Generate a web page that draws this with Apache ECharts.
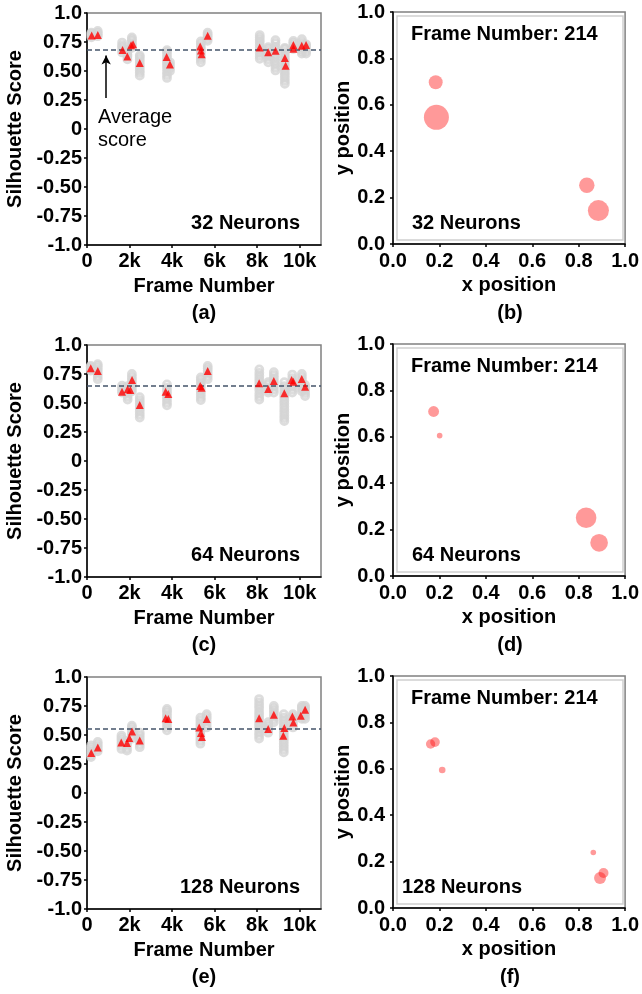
<!DOCTYPE html>
<html>
<head>
<meta charset="utf-8">
<script src="https://cdn.jsdelivr.net/npm/echarts@6/dist/echarts.min.js"></script>
<style>
  html, body { margin: 0; padding: 0; background: #fff; }
  #chart { width: 642px; height: 994px; }
</style>
</head>
<body>
<div id="chart"></div>
<script>
// ---- tick labels ----
const frameTicks = [0, 2000, 4000, 6000, 8000, 10000];
const frameTickLabels = ['0', '2k', '4k', '6k', '8k', '10k'];
const scoreTickLabels = ['-1.0', '-0.75', '-0.50', '-0.25', '0', '0.25', '0.50', '0.75', '1.0'];
const posTickLabels = ['0.0', '0.2', '0.4', '0.6', '0.8', '1.0'];

const neuronCounts = [32, 64, 128];
const shownFrame = 214;
const panelLetters = ['(a)', '(b)', '(c)', '(d)', '(e)', '(f)'];

// ---- 32 neurons ----
const columnFrames32 = [205, 505, 1650, 1900, 2110, 2480, 3760, 3900, 5350, 5670, 8120, 8520, 8860, 9300, 9700, 10100, 10300];
const columnScores32 = [
  [0.79, 0.805, 0.82, 0.83],
  [0.80, 0.815, 0.83, 0.845],
  [0.66, 0.68, 0.705, 0.72, 0.745],
  [0.60, 0.625, 0.64, 0.665, 0.68],
  [0.70, 0.72, 0.735, 0.76, 0.775, 0.79],
  [0.46, 0.485, 0.505, 0.53, 0.55, 0.575, 0.60, 0.62, 0.635],
  [0.44, 0.465, 0.49, 0.52, 0.545, 0.57, 0.59, 0.615, 0.64, 0.665, 0.68],
  [0.50, 0.525, 0.55, 0.575],
  [0.575, 0.60, 0.62, 0.645, 0.67, 0.69, 0.71, 0.735, 0.755],
  [0.76, 0.78, 0.80, 0.815, 0.83],
  [0.605, 0.63, 0.655, 0.68, 0.70, 0.725, 0.75, 0.77, 0.79, 0.81],
  [0.575, 0.60, 0.625, 0.645, 0.67, 0.69, 0.705],
  [0.505, 0.53, 0.555, 0.58, 0.61, 0.635, 0.66, 0.685, 0.71, 0.74, 0.765],
  [0.39, 0.415, 0.44, 0.465, 0.49, 0.515, 0.54, 0.565, 0.59, 0.615, 0.64, 0.665, 0.69, 0.70],
  [0.69, 0.71, 0.73, 0.745, 0.76],
  [0.65, 0.67, 0.69, 0.71, 0.73, 0.75, 0.775],
  [0.65, 0.67, 0.695, 0.715, 0.73]
];
const meanScores32 = [
  [220, 0.805], [507, 0.811], [1673, 0.682], [1896, 0.625], [2071, 0.722], [2166, 0.731],
  [2479, 0.568], [3744, 0.620], [3900, 0.556], [5322, 0.711], [5355, 0.677], [5389, 0.645],
  [5673, 0.803], [8118, 0.702], [8517, 0.662], [8863, 0.674], [9303, 0.611], [9336, 0.545],
  [9700, 0.725], [9705, 0.691], [10095, 0.717], [10299, 0.725]
];
const averageScore32 = 0.680;
// [x, y, members]
const clusters32 = [[0.184, 0.697, 31], [0.187, 0.546, 100], [0.835, 0.253, 38], [0.885, 0.144, 71]];

// ---- 64 neurons ----
const columnFrames64 = [175, 505, 1645, 1910, 2110, 2480, 3760, 5350, 5673, 8100, 8517, 8783, 9275, 9650, 10100, 10253];
const columnScores64 = [
  [0.78, 0.795, 0.81, 0.82],
  [0.705, 0.73, 0.755, 0.78, 0.80, 0.82, 0.835],
  [0.59, 0.61, 0.63, 0.65],
  [0.53, 0.555, 0.58, 0.60, 0.625, 0.645],
  [0.60, 0.625, 0.65, 0.675, 0.70, 0.725, 0.75],
  [0.375, 0.40, 0.425, 0.45, 0.475, 0.50, 0.525, 0.55],
  [0.48, 0.505, 0.53, 0.555, 0.58, 0.605, 0.63, 0.66],
  [0.525, 0.55, 0.575, 0.60, 0.625, 0.65, 0.675, 0.70, 0.72],
  [0.705, 0.73, 0.755, 0.78, 0.80, 0.82],
  [0.53, 0.555, 0.58, 0.61, 0.635, 0.66, 0.685, 0.71, 0.735, 0.76, 0.79],
  [0.59, 0.61, 0.635, 0.66, 0.68],
  [0.59, 0.615, 0.64, 0.665, 0.69, 0.715, 0.74, 0.765],
  [0.345, 0.37, 0.395, 0.42, 0.445, 0.47, 0.495, 0.52, 0.545, 0.57, 0.595, 0.62, 0.645, 0.68],
  [0.59, 0.615, 0.64, 0.665, 0.69, 0.715, 0.745],
  [0.60, 0.625, 0.65, 0.675, 0.70, 0.725, 0.75],
  [0.56, 0.585, 0.61, 0.635, 0.655]
];
const meanScores64 = [
  [175, 0.799], [507, 0.776], [1645, 0.598], [1910, 0.618], [2038, 0.612], [2118, 0.698],
  [2480, 0.483], [3697, 0.598], [3823, 0.578], [5322, 0.647], [5389, 0.632], [5673, 0.776],
  [8090, 0.670], [8517, 0.621], [8783, 0.690], [9275, 0.583], [9620, 0.698], [9701, 0.684],
  [10095, 0.707], [10253, 0.641]
];
const averageScore64 = 0.647;
const clusters64 = [[0.175, 0.709, 19], [0.201, 0.605, 5], [0.832, 0.251, 68], [0.888, 0.143, 50]];

// ---- 128 neurons ----
const columnFrames128 = [190, 505, 1620, 1880, 2110, 2480, 3760, 5330, 5626, 8090, 8517, 8783, 9250, 9680, 10100, 10250];
const columnScores128 = [
  [0.31, 0.33, 0.35, 0.37, 0.39, 0.41],
  [0.36, 0.38, 0.40, 0.42, 0.44],
  [0.38, 0.405, 0.43, 0.455, 0.475, 0.495],
  [0.365, 0.385, 0.41, 0.43, 0.45],
  [0.47, 0.495, 0.52, 0.545, 0.565, 0.58],
  [0.395, 0.42, 0.445, 0.47, 0.495, 0.52],
  [0.54, 0.565, 0.59, 0.615, 0.64, 0.665, 0.69, 0.71, 0.725],
  [0.425, 0.45, 0.475, 0.50, 0.525, 0.55, 0.575, 0.60, 0.625, 0.65],
  [0.565, 0.59, 0.615, 0.64, 0.66, 0.68],
  [0.47, 0.495, 0.52, 0.55, 0.575, 0.60, 0.625, 0.65, 0.675, 0.70, 0.73, 0.755, 0.78, 0.81],
  [0.52, 0.545, 0.57, 0.59, 0.61],
  [0.61, 0.635, 0.66, 0.685, 0.71, 0.73, 0.75],
  [0.35, 0.375, 0.40, 0.425, 0.45, 0.475, 0.50, 0.525, 0.55, 0.575, 0.60, 0.625, 0.65, 0.68],
  [0.565, 0.59, 0.615, 0.64, 0.66, 0.68],
  [0.64, 0.665, 0.69, 0.715, 0.735, 0.75],
  [0.64, 0.665, 0.69, 0.715, 0.735, 0.75]
];
const meanScores128 = [
  [200, 0.345], [507, 0.393], [1611, 0.436], [1881, 0.431], [1990, 0.474], [2118, 0.531],
  [2480, 0.453], [3697, 0.645], [3823, 0.637], [5275, 0.565], [5355, 0.517], [5403, 0.482],
  [5626, 0.639], [8090, 0.645], [8517, 0.551], [8783, 0.674], [9227, 0.494], [9275, 0.560],
  [9654, 0.659], [9701, 0.608], [10047, 0.665], [10253, 0.717]
];
const averageScore128 = 0.554;
const clusters128 = [[0.162, 0.707, 14], [0.181, 0.715, 15], [0.212, 0.595, 7], [0.863, 0.239, 5], [0.892, 0.129, 23], [0.907, 0.151, 16]];

// ---- assemble ----
const columnFrames = [columnFrames32, columnFrames64, columnFrames128];
const columnScores = [columnScores32, columnScores64, columnScores128];
const meanScores = [meanScores32, meanScores64, meanScores128];
const averageScores = [averageScore32, averageScore64, averageScore128];
const clusters = [clusters32, clusters64, clusters128];

const FONT = "'Liberation Sans', Arial, Helvetica, sans-serif";
const boldText = { fontFamily: FONT, fontWeight: 'bold', fontSize: 20, color: '#000' };

const rowTops = [13, 345, 677];
const leftX = 87, rightX = 393, plotW = 234, plotH = 232;

const grids = [], xAxes = [], yAxes = [], series = [], graphics = [];

function axisBase(extra) {
  return Object.assign({
    type: 'value',
    splitLine: { show: false },
    axisLine: { show: true, onZero: false, lineStyle: { color: '#000', width: 1.5 } },
    axisTick: { show: true, length: 3, inside: false, lineStyle: { color: '#000', width: 1.5 } },
    nameLocation: 'middle',
    nameTextStyle: Object.assign({}, boldText)
  }, extra);
}

neuronCounts.forEach((n, r) => {
  const top = rowTops[r];
  const gl = r * 2, gr = r * 2 + 1;

  // score-vs-frame panel
  grids.push({ left: leftX, top: top, width: plotW, height: plotH, show: true,
               borderColor: '#808080', borderWidth: 1.5, backgroundColor: '#fff' });
  xAxes.push(axisBase({
    gridIndex: gl, min: 0, max: 11000, interval: 2000,
    name: 'Frame Number', nameGap: 31,
    axisTick: { show: true, length: 3, lineStyle: { color: '#000', width: 1.5 }, customValues: frameTicks },
    axisLabel: Object.assign({}, boldText, {
      margin: 6, customValues: frameTicks,
      formatter: v => { const i = frameTicks.indexOf(v); return i >= 0 ? frameTickLabels[i] : ''; }
    })
  }));
  yAxes.push(axisBase({
    gridIndex: gl, min: -1, max: 1, interval: 0.25,
    name: 'Silhouette Score', nameGap: 62,
    axisLabel: Object.assign({}, boldText, {
      margin: 5,
      formatter: v => scoreTickLabels[Math.round((v + 1) / 0.25)]
    })
  }));

  // cluster-position panel
  grids.push({ left: rightX, top: top - 1, width: plotW, height: plotH, show: true,
               borderColor: '#808080', borderWidth: 1.5, backgroundColor: '#fff' });
  xAxes.push(axisBase({
    gridIndex: gr, min: 0, max: 1, interval: 0.2,
    name: 'x position', nameGap: 31,
    axisLabel: Object.assign({}, boldText, { margin: 7, formatter: v => posTickLabels[Math.round(v / 0.2)] })
  }));
  yAxes.push(axisBase({
    gridIndex: gr, min: 0, max: 1, interval: 0.2,
    name: 'y position', nameGap: 40,
    axisLabel: Object.assign({}, boldText, { margin: 8, formatter: v => posTickLabels[Math.round(v / 0.2)] })
  }));

  const frames = columnFrames[r];
  const greyPoints = [];
  frames.forEach((f, i) => columnScores[r][i].forEach(s => greyPoints.push([f, s])));

  const markData = [{
    yAxis: averageScores[r],
    lineStyle: { color: '#44546a', width: 1.5, type: [5, 3] }
  }];
  if (r === 0) {
    // arrow pointing at the average line
    markData.push([
      { coord: [900, 0.268], symbol: 'none', lineStyle: { color: '#000', width: 1.5, type: 'solid' } },
      { coord: [900, 0.633], symbol: 'arrow', symbolSize: [7, 9] }
    ]);
  }

  series.push({
    type: 'scatter', xAxisIndex: gl, yAxisIndex: gl, z: 2,
    symbol: 'circle', symbolSize: 7,
    itemStyle: { color: 'rgba(0,0,0,0)', borderColor: '#d4d4d4', borderWidth: 2.8 },
    data: greyPoints, silent: true,
    markLine: { silent: true, z: 3, symbol: 'none', label: { show: false }, data: markData }
  });
  series.push({
    type: 'scatter', xAxisIndex: gl, yAxisIndex: gl, z: 6,
    symbol: 'triangle', symbolSize: [8, 8],
    itemStyle: { color: '#ff0000' },
    data: meanScores[r], silent: true
  });
  series.push({
    type: 'scatter', xAxisIndex: gr, yAxisIndex: gr, z: 4,
    symbol: 'circle',
    symbolSize: d => 2.5 * Math.sqrt(d[2]),
    itemStyle: { color: 'rgba(255,0,0,0.5)' },
    data: clusters[r], silent: true
  });

  // inner frame of the position panel
  graphics.push({
    type: 'rect', silent: true, z: 1,
    shape: { x: rightX + 4, y: top - 1 + 4, width: plotW - 8, height: plotH - 8 },
    style: { fill: null, stroke: '#cfcfcf', lineWidth: 1.5 }
  });

  const txt = (x, y, text, align) => graphics.push({
    type: 'text', x: x, y: y, z: 10, silent: true,
    style: { text: text, font: 'bold 20px ' + FONT, fill: '#000', align: align || 'left', verticalAlign: 'middle' }
  });
  txt(leftX + 213, top + 210, n + ' Neurons', 'right');
  txt(r === 2 ? rightX + 9 : rightX + 19, top + 210, n + ' Neurons');
  txt(rightX + 18, top + 21, 'Frame Number: ' + shownFrame);
  txt(leftX + plotW / 2, top + 300, panelLetters[gl], 'center');
  txt(rightX + plotW / 2, top + 300, panelLetters[gr], 'center');
});

// "Average score" note
graphics.push({
  type: 'text', x: 98, y: 106, z: 10, silent: true,
  style: { text: 'Average\nscore', font: '20px ' + FONT, fill: '#000', lineHeight: 23, align: 'left', verticalAlign: 'top' }
});

const chart = echarts.init(document.getElementById('chart'), null, { renderer: 'canvas' });
chart.setOption({
  animation: false,
  backgroundColor: '#fff',
  grid: grids,
  xAxis: xAxes,
  yAxis: yAxes,
  series: series,
  graphic: graphics
});
</script>
</body>
</html>
